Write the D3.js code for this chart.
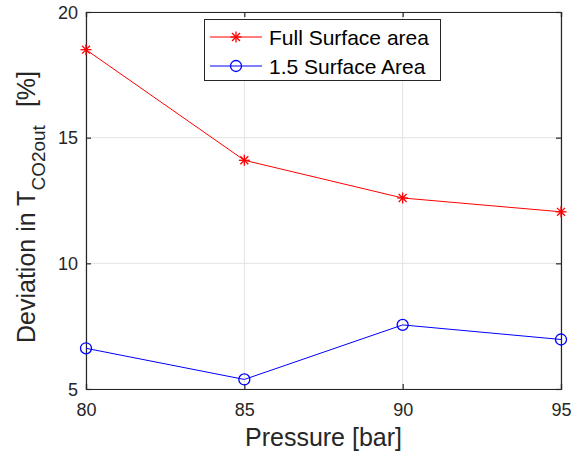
<!DOCTYPE html>
<html><head><meta charset="utf-8">
<script src="https://cdn.jsdelivr.net/npm/d3@7"></script>
<style>body{margin:0;background:#fff}svg{display:block;font-family:"Liberation Sans",Arial,sans-serif}</style>
</head><body>
<script>
const pressure = [80, 85, 90, 95];
const fullSurface = [18.5, 14.1, 12.6, 12.05];
const surface15 = [6.62, 5.38, 7.55, 6.97];
const xTicks = [80, 85, 90, 95];
const yTicks = [5, 10, 15, 20];
const seriesNames = ["Full Surface area", "1.5 Surface Area"];

const W = 572, H = 452;
const m = {l: 86, r: 561, t: 12, b: 389};
const FONT = "'Liberation Sans',Arial,sans-serif";
const svg = d3.select("body").append("svg").attr("width", W).attr("height", H);
svg.append("rect").attr("width", W).attr("height", H).attr("fill", "#fff");

const x = d3.scaleLinear().domain([80, 95]).range([m.l, m.r]);
const y = d3.scaleLinear().domain([5, 20]).range([m.b, m.t]);

// grid
const g = svg.append("g");
g.selectAll(".gx").data(xTicks).join("line")
  .attr("x1", d => x(d)).attr("x2", d => x(d)).attr("y1", m.t).attr("y2", m.b)
  .attr("stroke", "#e3e3e3").attr("stroke-width", 1);
g.selectAll(".gy").data(yTicks).join("line")
  .attr("y1", d => y(d)).attr("y2", d => y(d)).attr("x1", m.l).attr("x2", m.r)
  .attr("stroke", "#e3e3e3").attr("stroke-width", 1);

// axes
const tl = 5;
const axB = svg.append("g").attr("transform", `translate(0,${m.b})`)
  .call(d3.axisBottom(x).tickValues(xTicks).tickSize(-tl).tickPadding(14));
const axT = svg.append("g").attr("transform", `translate(0,${m.t})`)
  .call(d3.axisTop(x).tickValues(xTicks).tickSize(-tl).tickFormat(""));
const axL = svg.append("g").attr("transform", `translate(${m.l},0)`)
  .call(d3.axisLeft(y).tickValues(yTicks).tickSize(-tl).tickPadding(8));
const axR = svg.append("g").attr("transform", `translate(${m.r},0)`)
  .call(d3.axisRight(y).tickValues(yTicks).tickSize(-tl).tickFormat(""));
[axB, axT, axL, axR].forEach(a => {
  a.select(".domain").attr("stroke", "#262626").attr("stroke-width", 1.2);
  a.selectAll(".tick line").attr("stroke", "#262626").attr("stroke-width", 1.2);
  a.selectAll("text").attr("fill", "#262626").attr("font-size", 18).attr("font-family", FONT);
});
axB.selectAll("text").attr("dy", "0.71em");
axL.selectAll("text").attr("dy", "0.35em");

// lines
const line = d3.line().x((d, i) => x(pressure[i])).y(d => y(d));
svg.append("path").datum(fullSurface).attr("d", line).attr("fill", "none").attr("stroke", "#ff0000").attr("stroke-width", 1);
svg.append("path").datum(surface15).attr("d", line).attr("fill", "none").attr("stroke", "#0000ff").attr("stroke-width", 1);

function star(sel, cx, cy) {
  const r = 5.5;
  const gg = sel.append("g").attr("stroke", "#ff0000").attr("stroke-width", 1.3);
  gg.append("line").attr("x1", cx - r).attr("x2", cx + r).attr("y1", cy).attr("y2", cy);
  gg.append("line").attr("x1", cx).attr("x2", cx).attr("y1", cy - r).attr("y2", cy + r);
  const d = r * 0.72;
  gg.append("line").attr("x1", cx - d).attr("x2", cx + d).attr("y1", cy - d).attr("y2", cy + d);
  gg.append("line").attr("x1", cx - d).attr("x2", cx + d).attr("y1", cy + d).attr("y2", cy - d);
}
function circ(sel, cx, cy) {
  sel.append("circle").attr("cx", cx).attr("cy", cy).attr("r", 5.5)
    .attr("fill", "none").attr("stroke", "#0000ff").attr("stroke-width", 1.3);
}
fullSurface.forEach((v, i) => star(svg, x(pressure[i]), y(v)));
surface15.forEach((v, i) => circ(svg, x(pressure[i]), y(v)));

// legend
const lg = svg.append("g");
lg.append("rect").attr("x", 204.5).attr("y", 19.5).attr("width", 236).attr("height", 61)
  .attr("fill", "#fff").attr("stroke", "#262626").attr("stroke-width", 1);
const rows = [37, 66];
lg.append("line").attr("x1", 210).attr("x2", 262).attr("y1", rows[0]).attr("y2", rows[0]).attr("stroke", "#ff0000");
star(lg, 236, rows[0]);
lg.append("line").attr("x1", 210).attr("x2", 262).attr("y1", rows[1]).attr("y2", rows[1]).attr("stroke", "#0000ff");
circ(lg, 236, rows[1]);
seriesNames.forEach((n, i) => {
  lg.append("text").attr("x", 269).attr("y", rows[i]).attr("dy", "0.36em")
    .attr("font-size", 21).attr("fill", "#000").attr("font-family", FONT).text(n);
});

// axis titles
svg.append("text").attr("x", (m.l + m.r) / 2).attr("y", 446).attr("text-anchor", "middle")
  .attr("font-size", 25).attr("fill", "#262626").attr("font-family", FONT).text("Pressure [bar]");

const yt = svg.append("text").attr("transform", `translate(35,343) rotate(-90)`)
  .attr("text-anchor", "start").attr("font-size", 25).attr("fill", "#262626").attr("font-family", FONT);
yt.append("tspan").text("Deviation in T");
yt.append("tspan").attr("font-size", 19).attr("dy", 10).text("CO2out");
yt.append("tspan").attr("dy", -10).attr("dx", 18).text("[%]");
</script>
</body></html>
